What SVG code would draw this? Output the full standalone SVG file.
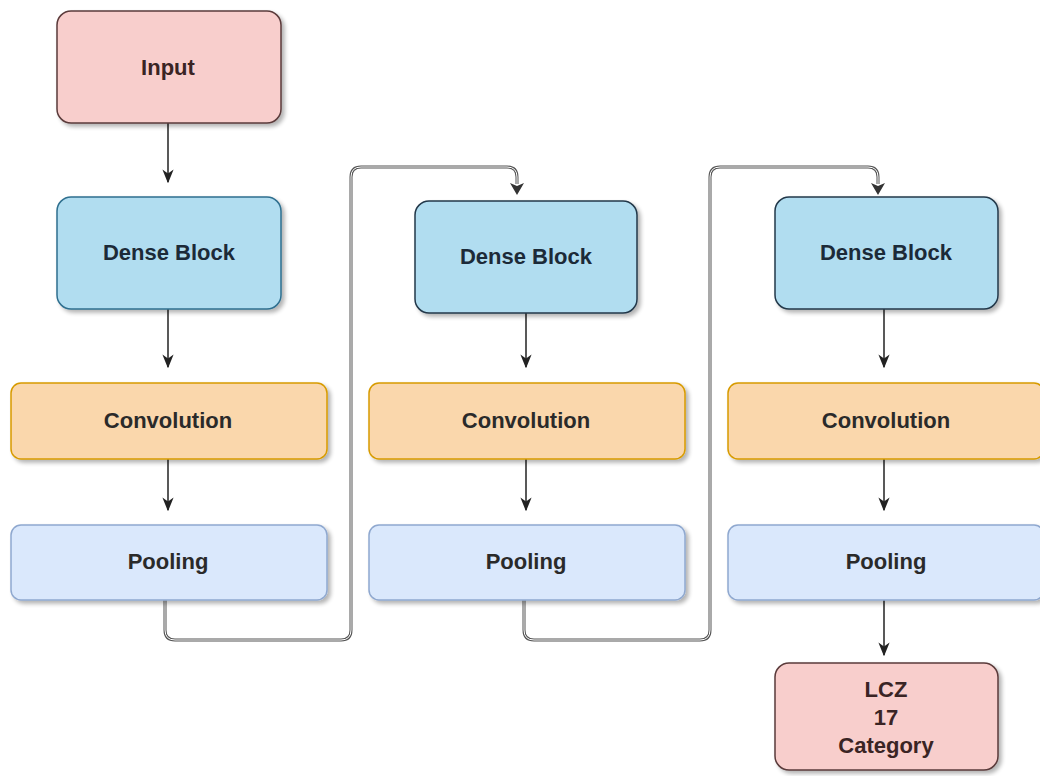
<svg xmlns="http://www.w3.org/2000/svg" width="1040" height="776" viewBox="0 0 1040 776">
  <defs>
    <filter id="shadow" x="-10%" y="-10%" width="125%" height="130%">
      <feGaussianBlur in="SourceAlpha" stdDeviation="2"/>
      <feOffset dx="3" dy="3" result="b"/>
      <feComponentTransfer><feFuncA type="linear" slope="0.3"/></feComponentTransfer>
      <feMerge><feMergeNode/><feMergeNode in="SourceGraphic"/></feMerge>
    </filter>
    <marker id="arrowBig" viewBox="0 0 10 10" refX="9" refY="5" markerWidth="14" markerHeight="14" orient="auto" markerUnits="userSpaceOnUse">
      <path d="M0,1 L10,5 L0,9 L3,5 Z" fill="#222"/>
    </marker>
  </defs>
  <style>
    .box { stroke-width: 1.5; filter: url(#shadow); }
    .red { fill: #f8cecc; stroke: #5a3a3a; }
    .dense { fill: #b1ddf0; stroke: #2f6f8f; }
    .dense2 { fill: #b1ddf0; stroke: #23384a; }
    .conv { fill: #fad7ac; stroke: #d79b00; }
    .pool { fill: #dae8fc; stroke: #8fa8cf; }
    .label { font-family: "Liberation Sans", Arial, sans-serif; font-size: 22px; font-weight: bold; fill: #2a2a2a; text-anchor: middle; dominant-baseline: central; }
    .red-text { fill: #3a2424; }
    .blue-text { fill: #1c2a38; }
    .edge { fill: none; stroke: #222; stroke-width: 1.5; }
    .loop-outer { fill: none; stroke: #555; stroke-width: 3; }
    .loop-inner { fill: none; stroke: #fff; stroke-width: 1; }
  </style>

  <rect width="1040" height="776" fill="#ffffff"/>

  <g id="connectors">
    <line class="edge" x1="168" y1="123" x2="168" y2="182" marker-end="url(#arrowBig)"/>
    <line class="edge" x1="168" y1="309" x2="168" y2="367" marker-end="url(#arrowBig)"/>
    <line class="edge" x1="168" y1="459" x2="168" y2="510" marker-end="url(#arrowBig)"/>

    <line class="edge" x1="526" y1="313" x2="526" y2="367" marker-end="url(#arrowBig)"/>
    <line class="edge" x1="526" y1="459" x2="526" y2="510" marker-end="url(#arrowBig)"/>

    <line class="edge" x1="884" y1="309" x2="884" y2="367" marker-end="url(#arrowBig)"/>
    <line class="edge" x1="884" y1="459" x2="884" y2="510" marker-end="url(#arrowBig)"/>
    <line class="edge" x1="884" y1="600" x2="884" y2="655" marker-end="url(#arrowBig)"/>

    <!-- pooling 1 to dense block 2 -->
    <path class="loop-outer" d="M165,600 V630 Q165,640 175,640 H341 Q351,640 351,630 V177 Q351,167 361,167 H507 Q517,167 517,177 V184"/>
    <path class="loop-inner" d="M165,600 V630 Q165,640 175,640 H341 Q351,640 351,630 V177 Q351,167 361,167 H507 Q517,167 517,177 V184"/>
    <path d="M510,183 L517,195 L524,183 L517,186 Z" fill="#333"/>

    <!-- pooling 2 to dense block 3 -->
    <path class="loop-outer" d="M524,600 V630 Q524,640 534,640 H700 Q710,640 710,630 V177 Q710,167 720,167 H868 Q878,167 878,177 V184"/>
    <path class="loop-inner" d="M524,600 V630 Q524,640 534,640 H700 Q710,640 710,630 V177 Q710,167 720,167 H868 Q878,167 878,177 V184"/>
    <path d="M871,183 L878,195 L885,183 L878,186 Z" fill="#333"/>
  </g>

  <g id="input">
    <rect class="box red" x="57" y="11" width="224" height="112" rx="14"/>
    <text class="label red-text" x="168" y="67">Input</text>
  </g>

  <g id="dense1">
    <rect class="box dense" x="57" y="197" width="224" height="112" rx="14"/>
    <text class="label blue-text" x="169" y="252">Dense Block</text>
  </g>
  <g id="conv1">
    <rect class="box conv" x="11" y="383" width="316" height="76" rx="10"/>
    <text class="label" x="168" y="420">Convolution</text>
  </g>
  <g id="pool1">
    <rect class="box pool" x="11" y="525" width="316" height="75" rx="10"/>
    <text class="label" x="168" y="561">Pooling</text>
  </g>

  <g id="dense2">
    <rect class="box dense2" x="415" y="201" width="222" height="112" rx="14"/>
    <text class="label blue-text" x="526" y="256">Dense Block</text>
  </g>
  <g id="conv2">
    <rect class="box conv" x="369" y="383" width="316" height="76" rx="10"/>
    <text class="label" x="526" y="420">Convolution</text>
  </g>
  <g id="pool2">
    <rect class="box pool" x="369" y="525" width="316" height="75" rx="10"/>
    <text class="label" x="526" y="561">Pooling</text>
  </g>

  <g id="dense3">
    <rect class="box dense2" x="775" y="197" width="223" height="112" rx="14"/>
    <text class="label blue-text" x="886" y="252">Dense Block</text>
  </g>
  <g id="conv3">
    <rect class="box conv" x="728" y="383" width="316" height="76" rx="10"/>
    <text class="label" x="886" y="420">Convolution</text>
  </g>
  <g id="pool3">
    <rect class="box pool" x="728" y="525" width="316" height="75" rx="10"/>
    <text class="label" x="886" y="561">Pooling</text>
  </g>

  <g id="output">
    <rect class="box red" x="775" y="663" width="223" height="107" rx="14"/>
    <text class="label red-text" x="886" y="689">LCZ</text>
    <text class="label red-text" x="886" y="717">17</text>
    <text class="label red-text" x="886" y="745">Category</text>
  </g>
</svg>
